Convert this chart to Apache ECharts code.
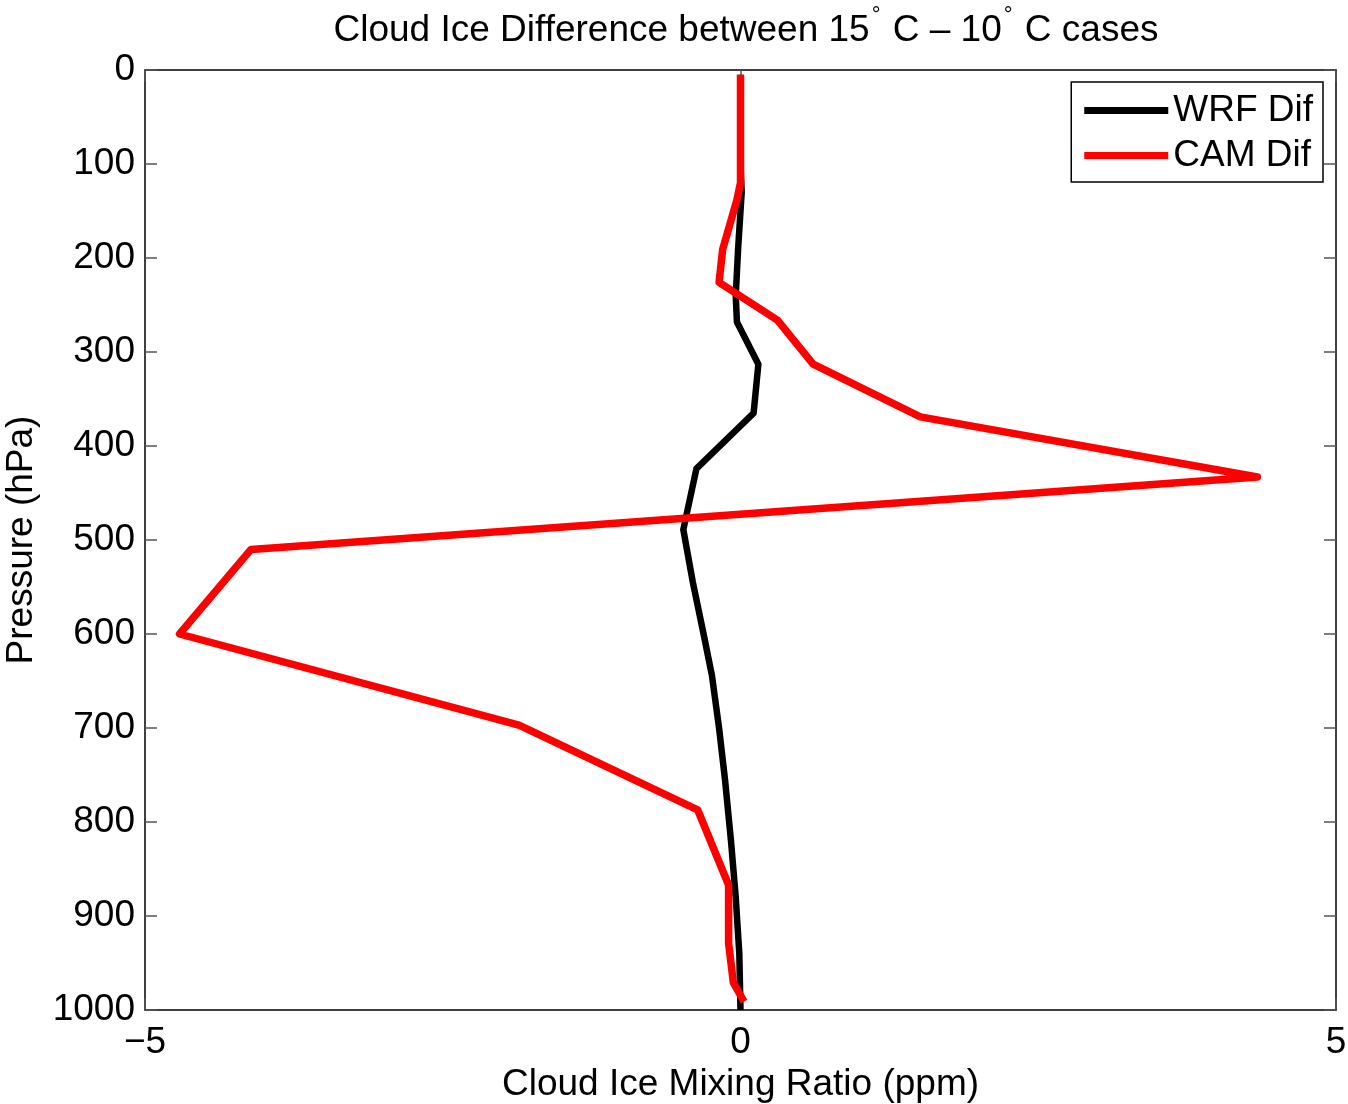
<!DOCTYPE html>
<html>
<head>
<meta charset="utf-8">
<script src="https://cdn.jsdelivr.net/npm/echarts@6/dist/echarts.min.js"></script>
<style>html,body{margin:0;padding:0;background:#fff;}#c{width:1348px;height:1104px;}</style>
</head>
<body>
<div id="c"></div>
<script>
// WRF Dif: [mixing ratio difference (ppm), pressure (hPa)]
const wrfX = [0, 0, 0, 0.01, -0.02, -0.04, -0.03, 0.15, 0.11, -0.37, -0.48, -0.40, -0.31, -0.24, -0.18, -0.13, -0.08, -0.04, -0.01, 0];
const wrfP = [5, 50, 100, 130, 190, 240, 268, 313, 365, 424, 489, 545, 600, 644, 700, 755, 820, 880, 940, 1000];
// CAM Dif
const camX = [0, 0, -0.03, -0.15, -0.18, 0.31, 0.61, 1.51, 4.34, -4.11, -4.71, -1.86, -0.36, -0.10, -0.10, -0.06, 0.03];
const camP = [5, 120, 138, 191, 226, 266, 313, 369, 433, 510, 600, 697, 787, 867, 929, 971, 991];
const seriesNames = ['WRF Dif', 'CAM Dif'];
const xTicks = [-5, 0, 5];
const yTicks = [0, 100, 200, 300, 400, 500, 600, 700, 800, 900, 1000];

const font = '"Liberation Sans", Arial, Helvetica, sans-serif';
const FS = 37;
const chart = echarts.init(document.getElementById('c'));
const fmtX = v => v < 0 ? '\u2212' + Math.abs(v) : String(v);
const tickStyle = {show: true, inside: true, length: 12, lineStyle: {color: '#555', width: 1.5}};
const lineStyleAxis = {show: true, onZero: false, lineStyle: {color: '#000', width: 1.5}};
chart.setOption({
  animation: false,
  backgroundColor: '#fff',
  title: {
    text: 'Cloud Ice Difference between 15{sup|°} C \u2013 10{sup|°} C cases',
    left: 741, top: 0, textAlign: 'center',
    textStyle: {fontFamily: font, fontSize: 37, fontWeight: 'normal', color: '#000',
      rich: {sup: {fontFamily: font, fontSize: 22, verticalAlign: 'top', padding: [0, 2, 30, 2], color: '#000'}}}
  },
  legend: {
    data: seriesNames,
    orient: 'vertical',
    right: 25, top: 82,
    padding: [10, 10, 8, 13],
    itemGap: 8,
    itemWidth: 84, itemHeight: 7,
    icon: 'rect',
    borderColor: '#000', borderWidth: 1.5,
    backgroundColor: '#fff',
    textStyle: {fontFamily: font, fontSize: FS, color: '#000', padding: [0, 0, 0, 0]}
  },
  grid: {left: 145, right: 12, top: 70, bottom: 94, outerBoundsMode: 'none', containLabel: false},
  xAxis: [{
    type: 'value', min: -5, max: 5, interval: 5,
    name: 'Cloud Ice Mixing Ratio (ppm)', nameLocation: 'middle', nameGap: 52,
    nameTextStyle: {fontFamily: font, fontSize: FS, color: '#000'},
    axisLine: lineStyleAxis,
    axisTick: tickStyle,
    axisLabel: {formatter: fmtX, fontFamily: font, fontSize: FS, color: '#000', margin: 14},
    splitLine: {show: false}
  }, {
    type: 'value', position: 'top', min: -5, max: 5, interval: 5,
    axisLine: lineStyleAxis,
    axisTick: tickStyle, axisLabel: {show: false}, splitLine: {show: false}
  }],
  yAxis: [{
    type: 'value', min: 0, max: 1000, interval: 100, inverse: true,
    name: 'Pressure (hPa)', nameLocation: 'middle', nameGap: 105, nameRotate: 90,
    nameTextStyle: {fontFamily: font, fontSize: FS, color: '#000'},
    axisLine: lineStyleAxis,
    axisTick: tickStyle,
    axisLabel: {fontFamily: font, fontSize: FS, color: '#000', margin: 10,
      formatter: v => yTicks.includes(v) ? String(v) : ''},
    splitLine: {show: false}
  }, {
    type: 'value', position: 'right', min: 0, max: 1000, interval: 100, inverse: true,
    axisLine: lineStyleAxis,
    axisTick: tickStyle, axisLabel: {show: false}, splitLine: {show: false}
  }],
  series: [{
    name: seriesNames[0], type: 'line', symbol: 'none',
    data: wrfX.map((x, i) => [x, wrfP[i]]),
    color: '#000',
    lineStyle: {color: '#000', width: 6.5, join: 'round'},
    z: 2
  }, {
    name: seriesNames[1], type: 'line', symbol: 'none',
    data: camX.map((x, i) => [x, camP[i]]),
    color: '#ff0000',
    lineStyle: {color: '#ff0000', width: 7.5, join: 'round'},
    z: 3
  }]
});
</script>
</body>
</html>
